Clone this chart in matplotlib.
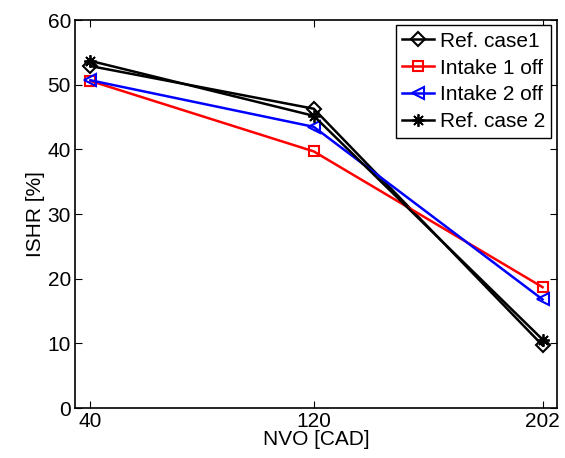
import numpy as np
import matplotlib.pyplot as plt

plt.rcParams['font.family'] = ['Liberation Sans', 'DejaVu Sans']

# NVO values (CAD)
nvo = [40, 120, 202]

ref_case1 = [52.9, 46.3, 9.7]
intake1_off = [50.6, 39.7, 18.7]
intake2_off = [50.7, 43.5, 16.8]
ref_case2 = [53.7, 45.2, 10.6]

fig = plt.figure(figsize=(5.65, 4.58), dpi=100)
ax = fig.add_axes([0.133, 0.109, 0.852, 0.847])

ax.plot(nvo, ref_case1, color='black', marker='D', markersize=7, mfc='none',
        mew=1.5, lw=1.8, label='Ref. case1')
ax.plot(nvo, intake1_off, color='red', marker='s', markersize=7, mfc='none',
        mew=1.5, lw=1.8, label='Intake 1 off')
ax.plot(nvo, intake2_off, color='blue', marker='<', markersize=9, mfc='none',
        mew=1.5, lw=1.8, label='Intake 2 off')
ax.plot(nvo, ref_case2, color='black', marker=(8, 2, 0), markersize=9,
        mew=1.3, lw=1.8, label='Ref. case 2')

ax.set_xlim(34.5, 207)
ax.set_ylim(0, 60)
ax.set_xticks(nvo)
ax.set_yticks(np.arange(0, 61, 10))
ax.tick_params(direction='in', top=True, right=True, labelsize=15, length=5, width=0.8, pad=3)
for s in ax.spines.values():
    s.set_linewidth(1.2)

ax.set_xlabel('NVO [CAD]', fontsize=15, labelpad=-1)
ax.set_ylabel('ISHR [%]', fontsize=15, labelpad=2)

leg = ax.legend(loc='upper right', fontsize=15, fancybox=False, framealpha=1,
                edgecolor='black', handlelength=1.5, handletextpad=0.3,
                borderpad=0.3, labelspacing=0.38, borderaxespad=0.25)
leg.get_frame().set_linewidth(1.0)

plt.savefig('out.png', dpi=100)
